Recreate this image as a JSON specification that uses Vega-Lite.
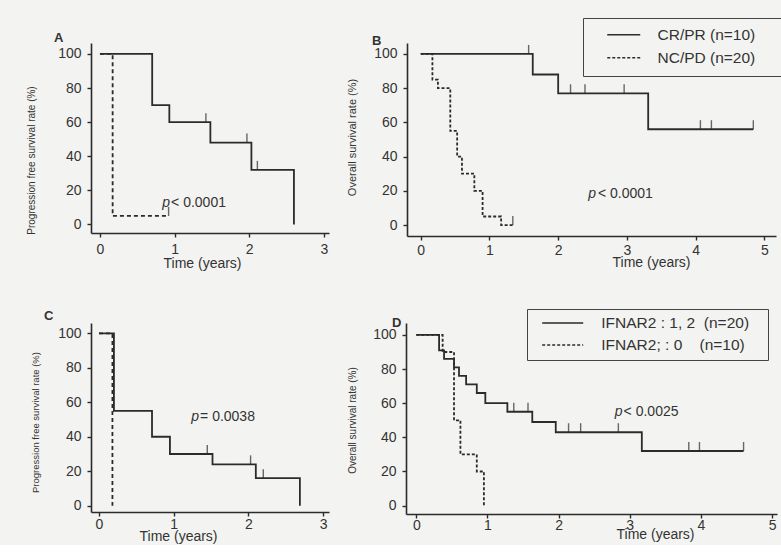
{
  "$schema": "https://vega.github.io/schema/vega-lite/v6.json",
  "background": "#f3f3f1",
  "padding": {"left": 25, "top": 17, "right": 2, "bottom": 2},
  "datasets": {
    "kmA": [
      {"g": "CR/PR (n=10)", "t": 0, "s": 100}, {"g": "CR/PR (n=10)", "t": 0.7, "s": 70}, {"g": "CR/PR (n=10)", "t": 0.93, "s": 60},
      {"g": "CR/PR (n=10)", "t": 1.48, "s": 48}, {"g": "CR/PR (n=10)", "t": 2.03, "s": 32}, {"g": "CR/PR (n=10)", "t": 2.6, "s": 0},
      {"g": "NC/PD (n=20)", "t": 0, "s": 100}, {"g": "NC/PD (n=20)", "t": 0.17, "s": 5}, {"g": "NC/PD (n=20)", "t": 0.92, "s": 5}
    ],
    "cenA": [{"t": 1.42, "s": 60}, {"t": 1.97, "s": 48}, {"t": 2.11, "s": 32}, {"t": 0.92, "s": 5}],
    "pA": [{"t": 0.94, "s": 12.4, "p1": "p", "p2": "< 0.0001"}],
    "kmB": [
      {"g": "CR/PR (n=10)", "t": 0, "s": 100}, {"g": "CR/PR (n=10)", "t": 1.63, "s": 88}, {"g": "CR/PR (n=10)", "t": 2.0, "s": 77},
      {"g": "CR/PR (n=10)", "t": 3.31, "s": 56}, {"g": "CR/PR (n=10)", "t": 4.84, "s": 56},
      {"g": "NC/PD (n=20)", "t": 0, "s": 100}, {"g": "NC/PD (n=20)", "t": 0.17, "s": 85}, {"g": "NC/PD (n=20)", "t": 0.25, "s": 80},
      {"g": "NC/PD (n=20)", "t": 0.43, "s": 55}, {"g": "NC/PD (n=20)", "t": 0.53, "s": 40}, {"g": "NC/PD (n=20)", "t": 0.6, "s": 30},
      {"g": "NC/PD (n=20)", "t": 0.78, "s": 20}, {"g": "NC/PD (n=20)", "t": 0.9, "s": 5}, {"g": "NC/PD (n=20)", "t": 1.17, "s": 0},
      {"g": "NC/PD (n=20)", "t": 1.34, "s": 0}
    ],
    "cenB": [{"t": 1.57, "s": 100}, {"t": 2.18, "s": 77}, {"t": 2.39, "s": 77}, {"t": 2.96, "s": 77}, {"t": 4.07, "s": 56}, {"t": 4.23, "s": 56}, {"t": 4.84, "s": 56}, {"t": 1.34, "s": 0}],
    "pB": [{"t": 2.55, "s": 18, "p1": "p", "p2": "< 0.0001"}],
    "kmC": [
      {"g": "IFNAR2 : 1, 2\u00a0\u00a0(n=20)", "t": 0, "s": 100}, {"g": "IFNAR2 : 1, 2\u00a0\u00a0(n=20)", "t": 0.2, "s": 55},
      {"g": "IFNAR2 : 1, 2\u00a0\u00a0(n=20)", "t": 0.71, "s": 40}, {"g": "IFNAR2 : 1, 2\u00a0\u00a0(n=20)", "t": 0.95, "s": 30},
      {"g": "IFNAR2 : 1, 2\u00a0\u00a0(n=20)", "t": 1.52, "s": 24}, {"g": "IFNAR2 : 1, 2\u00a0\u00a0(n=20)", "t": 2.1, "s": 16},
      {"g": "IFNAR2 : 1, 2\u00a0\u00a0(n=20)", "t": 2.69, "s": 0},
      {"g": "IFNAR2; : 0\u00a0\u00a0\u00a0\u00a0(n=10)", "t": 0, "s": 100}, {"g": "IFNAR2; : 0\u00a0\u00a0\u00a0\u00a0(n=10)", "t": 0.18, "s": 0}
    ],
    "cenC": [{"t": 1.45, "s": 30}, {"t": 2.03, "s": 24}, {"t": 2.2, "s": 16}],
    "pC": [{"t": 1.34, "s": 51.5, "p1": "p", "p2": "= 0.0038"}],
    "kmD": [
      {"g": "IFNAR2 : 1, 2\u00a0\u00a0(n=20)", "t": 0, "s": 100}, {"g": "IFNAR2 : 1, 2\u00a0\u00a0(n=20)", "t": 0.32, "s": 91},
      {"g": "IFNAR2 : 1, 2\u00a0\u00a0(n=20)", "t": 0.39, "s": 86}, {"g": "IFNAR2 : 1, 2\u00a0\u00a0(n=20)", "t": 0.53, "s": 81},
      {"g": "IFNAR2 : 1, 2\u00a0\u00a0(n=20)", "t": 0.6, "s": 76}, {"g": "IFNAR2 : 1, 2\u00a0\u00a0(n=20)", "t": 0.7, "s": 71},
      {"g": "IFNAR2 : 1, 2\u00a0\u00a0(n=20)", "t": 0.85, "s": 66}, {"g": "IFNAR2 : 1, 2\u00a0\u00a0(n=20)", "t": 0.97, "s": 60},
      {"g": "IFNAR2 : 1, 2\u00a0\u00a0(n=20)", "t": 1.28, "s": 55}, {"g": "IFNAR2 : 1, 2\u00a0\u00a0(n=20)", "t": 1.63, "s": 49},
      {"g": "IFNAR2 : 1, 2\u00a0\u00a0(n=20)", "t": 1.96, "s": 43}, {"g": "IFNAR2 : 1, 2\u00a0\u00a0(n=20)", "t": 3.17, "s": 32},
      {"g": "IFNAR2 : 1, 2\u00a0\u00a0(n=20)", "t": 4.6, "s": 32},
      {"g": "IFNAR2; : 0\u00a0\u00a0\u00a0\u00a0(n=10)", "t": 0, "s": 100}, {"g": "IFNAR2; : 0\u00a0\u00a0\u00a0\u00a0(n=10)", "t": 0.37, "s": 90},
      {"g": "IFNAR2; : 0\u00a0\u00a0\u00a0\u00a0(n=10)", "t": 0.53, "s": 50}, {"g": "IFNAR2; : 0\u00a0\u00a0\u00a0\u00a0(n=10)", "t": 0.62, "s": 30},
      {"g": "IFNAR2; : 0\u00a0\u00a0\u00a0\u00a0(n=10)", "t": 0.85, "s": 20}, {"g": "IFNAR2; : 0\u00a0\u00a0\u00a0\u00a0(n=10)", "t": 0.95, "s": 0}
    ],
    "cenD": [{"t": 1.37, "s": 55}, {"t": 1.57, "s": 55}, {"t": 2.14, "s": 43}, {"t": 2.31, "s": 43}, {"t": 2.84, "s": 43}, {"t": 3.83, "s": 32}, {"t": 3.98, "s": 32}, {"t": 4.6, "s": 32}],
    "pD": [{"t": 2.9, "s": 55, "p1": "p", "p2": "< 0.0025"}]
  },
  "bounds": "full",
  "spacing": 38,
  "resolve": {"scale": {"strokeDash": "independent"}, "legend": {"strokeDash": "independent"}},
  "vconcat": [
    {
      "bounds": "flush",
      "spacing": 78,
      "resolve": {"scale": {"strokeDash": "independent"}, "legend": {"strokeDash": "independent"}},
      "hconcat": [
        {
          "width": 238, "height": 190,
          "title": {"text": "A", "dx": -37, "dy": 2, "offset": 0},
          "layer": [
            {
              "data": {"name": "kmA"},
              "mark": {"type": "line", "interpolate": "step-after", "color": "#2b2b2b", "strokeWidth": 1.8},
              "encoding": {
                "x": {"field": "t", "type": "quantitative", "scale": {"domain": [-0.12, 3.07], "nice": false, "zero": false},
                      "axis": {"values": [0, 1, 2, 3], "tickCount": 10, "format": ".0f", "title": "Time (years)", "titleX": 111, "titleY": 23, "labelPadding": 5, "labelOverlap": false}},
                "y": {"field": "s", "type": "quantitative", "scale": {"domain": [-5, 106.4], "nice": false, "zero": false},
                      "axis": {"values": [0, 20, 40, 60, 80, 100], "tickCount": 10, "format": ".0f", "labelOverlap": false, "title": "Progression free survival rate (%)", "titleFontSize": 10, "titleX": -55, "titleY": 117}},
                "strokeDash": {"field": "g", "type": "nominal", "scale": {"domain": ["CR/PR (n=10)", "NC/PD (n=20)"], "range": [[1, 0], [4, 3]]}, "legend": null}
              }
            },
            {
              "data": {"name": "cenA"},
              "mark": {"type": "tick", "orient": "vertical", "size": 9, "thickness": 1.4, "yOffset": -4.5, "color": "#2b2b2b"},
              "encoding": {"x": {"field": "t", "type": "quantitative"}, "y": {"field": "s", "type": "quantitative"}}
            },
            {
              "data": {"name": "pA"},
              "mark": {"type": "text", "align": "right", "baseline": "middle", "fontStyle": "italic", "fontSize": 14, "color": "#333"},
              "encoding": {"x": {"field": "t", "type": "quantitative"}, "y": {"field": "s", "type": "quantitative"}, "text": {"field": "p1"}}
            },
            {
              "data": {"name": "pA"},
              "mark": {"type": "text", "align": "left", "baseline": "middle", "dx": 1, "fontSize": 14, "color": "#333"},
              "encoding": {"x": {"field": "t", "type": "quantitative"}, "y": {"field": "s", "type": "quantitative"}, "text": {"field": "p2"}}
            }
          ]
        },
        {
          "width": 369, "height": 193,
          "title": {"text": "B", "dx": -35, "dy": 30, "offset": 0},
          "layer": [
            {
              "data": {"name": "kmB"},
              "mark": {"type": "line", "interpolate": "step-after", "color": "#2b2b2b", "strokeWidth": 1.8},
              "encoding": {
                "x": {"field": "t", "type": "quantitative", "scale": {"domain": [-0.2, 5.17], "nice": false, "zero": false},
                      "axis": {"values": [0, 1, 2, 3, 4, 5], "tickCount": 10, "format": ".0f", "title": "Time (years)", "titleX": 244, "titleY": 19, "labelPadding": 3, "labelOverlap": false}},
                "y": {"field": "s", "type": "quantitative", "scale": {"domain": [-6.4, 106.4], "nice": false, "zero": false},
                      "axis": {"values": [0, 20, 40, 60, 80, 100], "tickCount": 10, "format": ".0f", "labelOverlap": false, "title": "Overall survival rate (%)", "titleFontSize": 11, "titleX": -50, "titleY": 94}},
                "strokeDash": {"field": "g", "type": "nominal", "scale": {"domain": ["CR/PR (n=10)", "NC/PD (n=20)"], "range": [[1, 0], [3, 2]]},
                               "legend": {"orient": "none", "legendX": 176, "legendY": -25, "title": null, "strokeColor": "#444", "fillColor": "#f3f3f1",
                                          "padding": 9, "symbolType": "M-3,0H3", "symbolSize": 121, "symbolStrokeWidth": 1.6, "symbolStrokeColor": "#2b2b2b", "symbolFillColor": "transparent",
                                          "labelFontSize": 15.5, "labelColor": "#333", "labelOffset": 26, "rowPadding": 6, "symbolOffset": 24, "labelLimit": 400,
                                          "labelExpr": "datum.label + '\u00a0\u00a0\u00a0\u00a0\u00a0\u200b'"}}
              }
            },
            {
              "data": {"name": "cenB"},
              "mark": {"type": "tick", "orient": "vertical", "size": 9, "thickness": 1.4, "yOffset": -4.5, "color": "#2b2b2b"},
              "encoding": {"x": {"field": "t", "type": "quantitative"}, "y": {"field": "s", "type": "quantitative"}}
            },
            {
              "data": {"name": "pB"},
              "mark": {"type": "text", "align": "right", "baseline": "middle", "fontStyle": "italic", "fontSize": 14, "color": "#333"},
              "encoding": {"x": {"field": "t", "type": "quantitative"}, "y": {"field": "s", "type": "quantitative"}, "text": {"field": "p1"}}
            },
            {
              "data": {"name": "pB"},
              "mark": {"type": "text", "align": "left", "baseline": "middle", "dx": 2, "fontSize": 14, "color": "#333"},
              "encoding": {"x": {"field": "t", "type": "quantitative"}, "y": {"field": "s", "type": "quantitative"}, "text": {"field": "p2"}}
            }
          ]
        }
      ]
    },
    {
      "bounds": "flush",
      "spacing": 77,
      "resolve": {"scale": {"strokeDash": "independent"}, "legend": {"strokeDash": "independent"}},
      "hconcat": [
        {
          "width": 238, "height": 189,
          "title": {"text": "C", "dx": -47, "dy": 5, "offset": 5},
          "layer": [
            {
              "data": {"name": "kmC"},
              "mark": {"type": "line", "interpolate": "step-after", "color": "#2b2b2b", "strokeWidth": 1.8},
              "encoding": {
                "x": {"field": "t", "type": "quantitative", "scale": {"domain": [-0.107, 3.08], "nice": false, "zero": false},
                      "axis": {"values": [0, 1, 2, 3], "tickCount": 10, "format": ".0f", "title": "Time (years)", "titleX": 87, "titleY": 17, "labelPadding": 1, "labelOverlap": false}},
                "y": {"field": "s", "type": "quantitative", "scale": {"domain": [-3.65, 106], "nice": false, "zero": false},
                      "axis": {"values": [0, 20, 40, 60, 80, 100], "tickCount": 10, "format": ".0f", "labelOverlap": false, "title": "Progression free survival rate (%)", "titleFontSize": 9.5, "titleX": -51, "titleY": 99}},
                "strokeDash": {"field": "g", "type": "nominal", "scale": {"domain": ["IFNAR2 : 1, 2\u00a0\u00a0(n=20)", "IFNAR2; : 0\u00a0\u00a0\u00a0\u00a0(n=10)"], "range": [[1, 0], [4, 3]]}, "legend": null}
              }
            },
            {
              "data": {"name": "cenC"},
              "mark": {"type": "tick", "orient": "vertical", "size": 9, "thickness": 1.4, "yOffset": -4.5, "color": "#2b2b2b"},
              "encoding": {"x": {"field": "t", "type": "quantitative"}, "y": {"field": "s", "type": "quantitative"}}
            },
            {
              "data": {"name": "pC"},
              "mark": {"type": "text", "align": "right", "baseline": "middle", "fontStyle": "italic", "fontSize": 14, "color": "#333"},
              "encoding": {"x": {"field": "t", "type": "quantitative"}, "y": {"field": "s", "type": "quantitative"}, "text": {"field": "p1"}}
            },
            {
              "data": {"name": "pC"},
              "mark": {"type": "text", "align": "left", "baseline": "middle", "dx": 1, "fontSize": 14, "color": "#333"},
              "encoding": {"x": {"field": "t", "type": "quantitative"}, "y": {"field": "s", "type": "quantitative"}, "text": {"field": "p2"}}
            }
          ]
        },
        {
          "width": 371, "height": 191,
          "title": {"text": "D", "dx": -14, "dy": 13, "offset": -8},
          "layer": [
            {
              "data": {"name": "kmD"},
              "mark": {"type": "line", "interpolate": "step-after", "color": "#2b2b2b", "strokeWidth": 1.8},
              "encoding": {
                "x": {"field": "t", "type": "quantitative", "scale": {"domain": [-0.145, 5.07], "nice": false, "zero": false},
                      "axis": {"values": [0, 1, 2, 3, 4, 5], "tickCount": 10, "format": ".0f", "title": "Time (years)", "titleX": 249, "titleY": 13, "labelPadding": 0, "labelOverlap": false}},
                "y": {"field": "s", "type": "quantitative", "scale": {"domain": [-4.9, 107], "nice": false, "zero": false},
                      "axis": {"values": [0, 20, 40, 60, 80, 100], "tickCount": 10, "format": ".0f", "labelOverlap": false, "title": "Overall survival rate (%)", "titleFontSize": 10, "titleX": -49, "titleY": 97}},
                "strokeDash": {"field": "g", "type": "nominal", "scale": {"domain": ["IFNAR2 : 1, 2\u00a0\u00a0(n=20)", "IFNAR2; : 0\u00a0\u00a0\u00a0\u00a0(n=10)"], "range": [[1, 0], [3, 2]]},
                               "legend": {"orient": "none", "legendX": 121, "legendY": -14, "title": null, "strokeColor": "#444", "fillColor": "#f3f3f1",
                                          "padding": 6, "symbolType": "M-3,0H3", "symbolSize": 187, "symbolStrokeWidth": 1.6, "symbolStrokeColor": "#2b2b2b", "symbolFillColor": "transparent",
                                          "labelFontSize": 15.5, "labelColor": "#333", "labelOffset": 30.6, "rowPadding": 5, "symbolOffset": 21.7, "labelLimit": 400,
                                          "labelExpr": "datum.label + '\u00a0\u00a0\u00a0\u200b'"}}
              }
            },
            {
              "data": {"name": "cenD"},
              "mark": {"type": "tick", "orient": "vertical", "size": 9, "thickness": 1.4, "yOffset": -4.5, "color": "#2b2b2b"},
              "encoding": {"x": {"field": "t", "type": "quantitative"}, "y": {"field": "s", "type": "quantitative"}}
            },
            {
              "data": {"name": "pD"},
              "mark": {"type": "text", "align": "right", "baseline": "middle", "fontStyle": "italic", "fontSize": 14, "color": "#333"},
              "encoding": {"x": {"field": "t", "type": "quantitative"}, "y": {"field": "s", "type": "quantitative"}, "text": {"field": "p1"}}
            },
            {
              "data": {"name": "pD"},
              "mark": {"type": "text", "align": "left", "baseline": "middle", "dx": 1, "fontSize": 14, "color": "#333"},
              "encoding": {"x": {"field": "t", "type": "quantitative"}, "y": {"field": "s", "type": "quantitative"}, "text": {"field": "p2"}}
            }
          ]
        }
      ]
    }
  ],
  "config": {
    "font": "Liberation Sans",
    "view": {"stroke": null},
    "axis": {"grid": false, "domainColor": "#2b2b2b", "domainWidth": 1.6, "tickColor": "#2b2b2b", "tickWidth": 1.4, "tickSize": 4,
             "labelColor": "#333", "labelFontSize": 14, "labelFont": "Liberation Sans", "titleColor": "#333", "titleFontWeight": "normal",
             "titleFont": "Liberation Sans", "titleFontSize": 14, "titleAlign": "center", "labelOverlap": false},
    "axisY": {"labelPadding": 6},
    "title": {"fontSize": 13, "fontWeight": "bold", "anchor": "start", "frame": "group", "color": "#333", "font": "Liberation Sans"},
    "legend": {"labelFont": "Liberation Sans"}
  }
}
